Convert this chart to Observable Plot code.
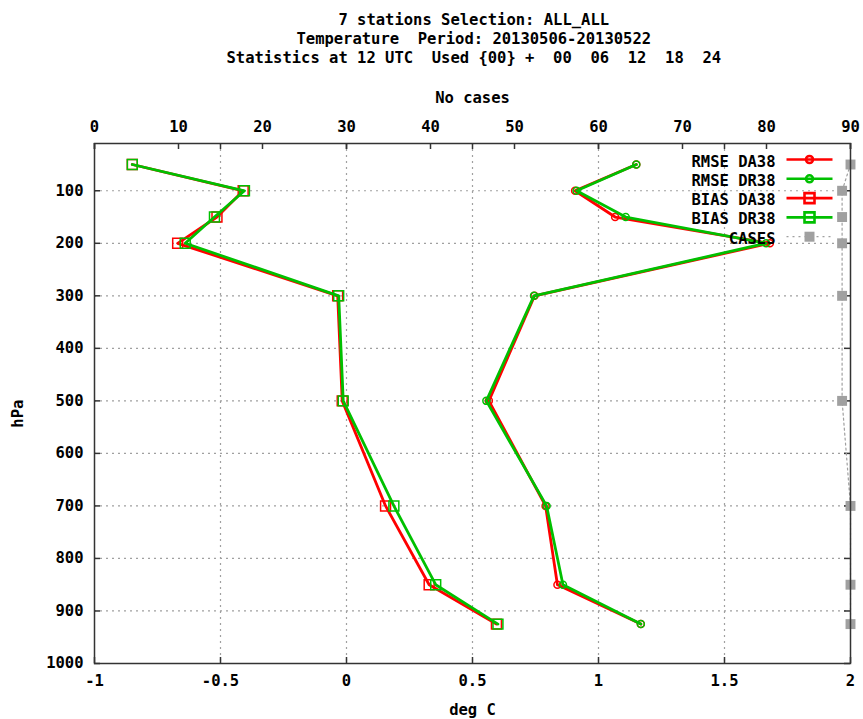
<!DOCTYPE html>
<html>
<head>
<meta charset="utf-8">
<script src="https://cdn.jsdelivr.net/npm/d3@7"></script>
<script src="https://cdn.jsdelivr.net/npm/@observablehq/plot@0.6"></script>
<style>
  html, body { margin: 0; padding: 0; background: #fff; }
</style>
</head>
<body>
<div id="chart"></div>
<script>
// ---- data ----
const levels   = [50, 100, 150, 200, 300, 500, 700, 850, 925];
const rmseDA38 = [1.15, 0.907, 1.066, 1.68, 0.746, 0.565, 0.790, 0.837, 1.168];
const rmseDR38 = [1.15, 0.913, 1.108, 1.665, 0.744, 0.555, 0.794, 0.859, 1.168];
const biasDA38 = [-0.85, -0.41, -0.514, -0.67, -0.035, -0.017, 0.155, 0.328, 0.595];
const biasDR38 = [-0.85, -0.405, -0.524, -0.64, -0.031, -0.013, 0.188, 0.354, 0.601];
const cases    = [90, 89, 89, 89, 89, 89, 90, 90, 90];

const xTicks = [-1, -0.5, 0, 0.5, 1, 1.5, 2];
const xGrid = [-0.5, 0, 0.5, 1, 1.5];
const caseTicks = [0, 10, 20, 30, 40, 50, 60, 70, 80, 90];
const yTicks = [100, 200, 300, 400, 500, 600, 700, 800, 900, 1000];
const yGrid = [100, 200, 300, 400, 500, 600, 700, 800, 900];
const titleLines = [
  "7 stations Selection: ALL_ALL",
  "Temperature  Period: 20130506-20130522",
  "Statistics at 12 UTC  Used {00} +  00  06  12  18  24"
];
const legendLabels = ["RMSE DA38", "RMSE DR38", "BIAS DA38", "BIAS DR38", "CASES"];

// ---- helpers ----
const RED = "#ff0000", GREEN = "#00c000", GRAY = "#a0a0a0";
const caseToX = c => -1 + c / 30;   // No cases axis (0..90) mapped onto deg C axis (-1..2)
const rows = vals => levels.map((p, i) => ({p, v: vals[i]}));
const fmtX = d => String(d);

const W = 863, H = 719, ML = 94, MR = 13, MT = 143, MB = 56;
const PW = W - ML - MR, PH = H - MT - MB;

const lineWith = (inner) => ({
  draw(ctx) {
    ctx.moveTo(-23, 0); ctx.lineTo(23, 0);
    inner(ctx);
  }
});
const symLineSquare = lineWith(ctx => {
  ctx.moveTo(-5, -5); ctx.lineTo(5, -5); ctx.lineTo(5, 5); ctx.lineTo(-5, 5); ctx.closePath();
});
const symLineCircle = lineWith(ctx => {
  ctx.moveTo(3.5, 0); ctx.arc(0, 0, 3.5, 0, 2 * Math.PI);
});
const symLineOnly = {draw(ctx) { ctx.moveTo(-23, 0); ctx.lineTo(23, 0); }};
const symFilledSquare = {draw(ctx) {
  ctx.moveTo(-5, -5); ctx.lineTo(5, -5); ctx.lineTo(5, 5); ctx.lineTo(-5, 5); ctx.closePath();
}};

const legendSpec = [
  {sym: symLineCircle, stroke: RED},
  {sym: symLineCircle, stroke: GREEN},
  {sym: symLineSquare, stroke: RED},
  {sym: symLineSquare, stroke: GREEN},
  null
];

const legendMarks = [];
legendLabels.forEach((lab, i) => {
  const dy = 16 + i * 19.3;
  legendMarks.push(Plot.text([lab], {frameAnchor: "top-right", text: d => d, textAnchor: "end", dx: -75, dy: dy - 4, fill: "#000"}));
  const s = legendSpec[i];
  if (s) {
    legendMarks.push(Plot.dot([lab], {frameAnchor: "top-right", dx: -41, dy, symbol: s.sym, r: 5, stroke: s.stroke, fill: "none", strokeWidth: 2.6}));
  } else {
    legendMarks.push(Plot.dot([lab], {frameAnchor: "top-right", dx: -41, dy, symbol: symLineOnly, r: 5, stroke: GRAY, fill: "none", strokeWidth: 1.2, strokeDasharray: "2,4"}));
    legendMarks.push(Plot.dot([lab], {frameAnchor: "top-right", dx: -41, dy, symbol: symFilledSquare, r: 5, fill: GRAY, stroke: "none"}));
  }
});

const series = [
  {data: rows(rmseDA38), color: RED, symbol: "circle", r: 3.5},
  {data: rows(rmseDR38), color: GREEN, symbol: "circle", r: 3.5},
  {data: rows(biasDA38), color: RED, symbol: "square", r: 5.6},
  {data: rows(biasDR38), color: GREEN, symbol: "square", r: 5.6}
];
const seriesMarks = series.flatMap(s => [
  Plot.line(s.data, {x: "v", y: "p", stroke: s.color, strokeWidth: 2.8}),
  Plot.dot(s.data, {x: "v", y: "p", symbol: s.symbol, r: s.r, stroke: s.color, fill: "none", strokeWidth: 1.5})
]);

const caseRows = levels.map((p, i) => ({p, c: cases[i]}));

const chart = Plot.plot({
  width: W, height: H,
  marginLeft: ML, marginRight: MR, marginTop: MT, marginBottom: MB,
  style: {fontFamily: "'DejaVu Sans Mono', monospace", fontSize: "15.5px", fontWeight: "bold", background: "#fff", color: "#000"},
  x: {domain: [-1, 2], axis: null},
  y: {domain: [10, 1000], reverse: true, axis: null},
  marks: [
    // grid
    Plot.ruleX(xGrid, {x: d => d, stroke: GRAY, strokeWidth: 1.2, strokeDasharray: "2,4"}),
    Plot.ruleY(yGrid, {y: d => d, stroke: GRAY, strokeWidth: 1.2, strokeDasharray: "2,4"}),
    // ticks (inward, gnuplot style)
    Plot.tickX(xTicks, {x: d => d, insetTop: PH - 6, stroke: "#333", strokeWidth: 1.5}),
    Plot.tickX(xTicks, {x: d => d, insetBottom: PH - 6, stroke: "#333", strokeWidth: 1.5}),
    Plot.tickX(caseTicks, {x: d => caseToX(d), insetBottom: PH - 6, stroke: "#333", strokeWidth: 1.5}),
    Plot.tickY(yTicks, {y: d => d, insetRight: PW - 6, stroke: "#333", strokeWidth: 1.5}),
    Plot.tickY(yTicks, {y: d => d, insetLeft: PW - 6, stroke: "#333", strokeWidth: 1.5}),
    // tick labels
    Plot.text(xTicks, {x: d => d, text: fmtX, frameAnchor: "bottom", dy: 22, fill: "#000"}),
    Plot.text(caseTicks, {x: d => caseToX(d), text: d => String(d), frameAnchor: "top", dy: -23, fill: "#000"}),
    Plot.text(yTicks, {y: d => d, text: d => String(d), frameAnchor: "left", textAnchor: "end", dx: -11, fill: "#000"}),
    // axis labels
    Plot.text(["No cases"], {x: () => 0.5, text: d => d, frameAnchor: "top", dy: -52, fill: "#000"}),
    Plot.text(["deg C"], {x: () => 0.5, text: d => d, frameAnchor: "bottom", dy: 51, fill: "#000"}),
    Plot.text(["hPa"], {y: () => 551, text: d => d, frameAnchor: "left", dx: -76, rotate: -90, fill: "#000"}),
    // title
    ...titleLines.map((t, i) => Plot.text([t], {x: () => 0.505, text: d => d, frameAnchor: "top", dy: -130 + i * 19, fill: "#000"})),
    // cases
    Plot.line(caseRows, {x: d => caseToX(d.c), y: "p", stroke: GRAY, strokeWidth: 1.2, strokeDasharray: "2,3"}),
    Plot.dot(caseRows, {x: d => caseToX(d.c), y: "p", symbol: "square", r: 5.6, fill: GRAY, stroke: "none"}),
    // series
    ...seriesMarks,
    // frame
    Plot.frame({stroke: "#333", strokeWidth: 1.5}),
    // legend
    ...legendMarks
  ]
});
document.getElementById("chart").appendChild(chart);
</script>
</body>
</html>
